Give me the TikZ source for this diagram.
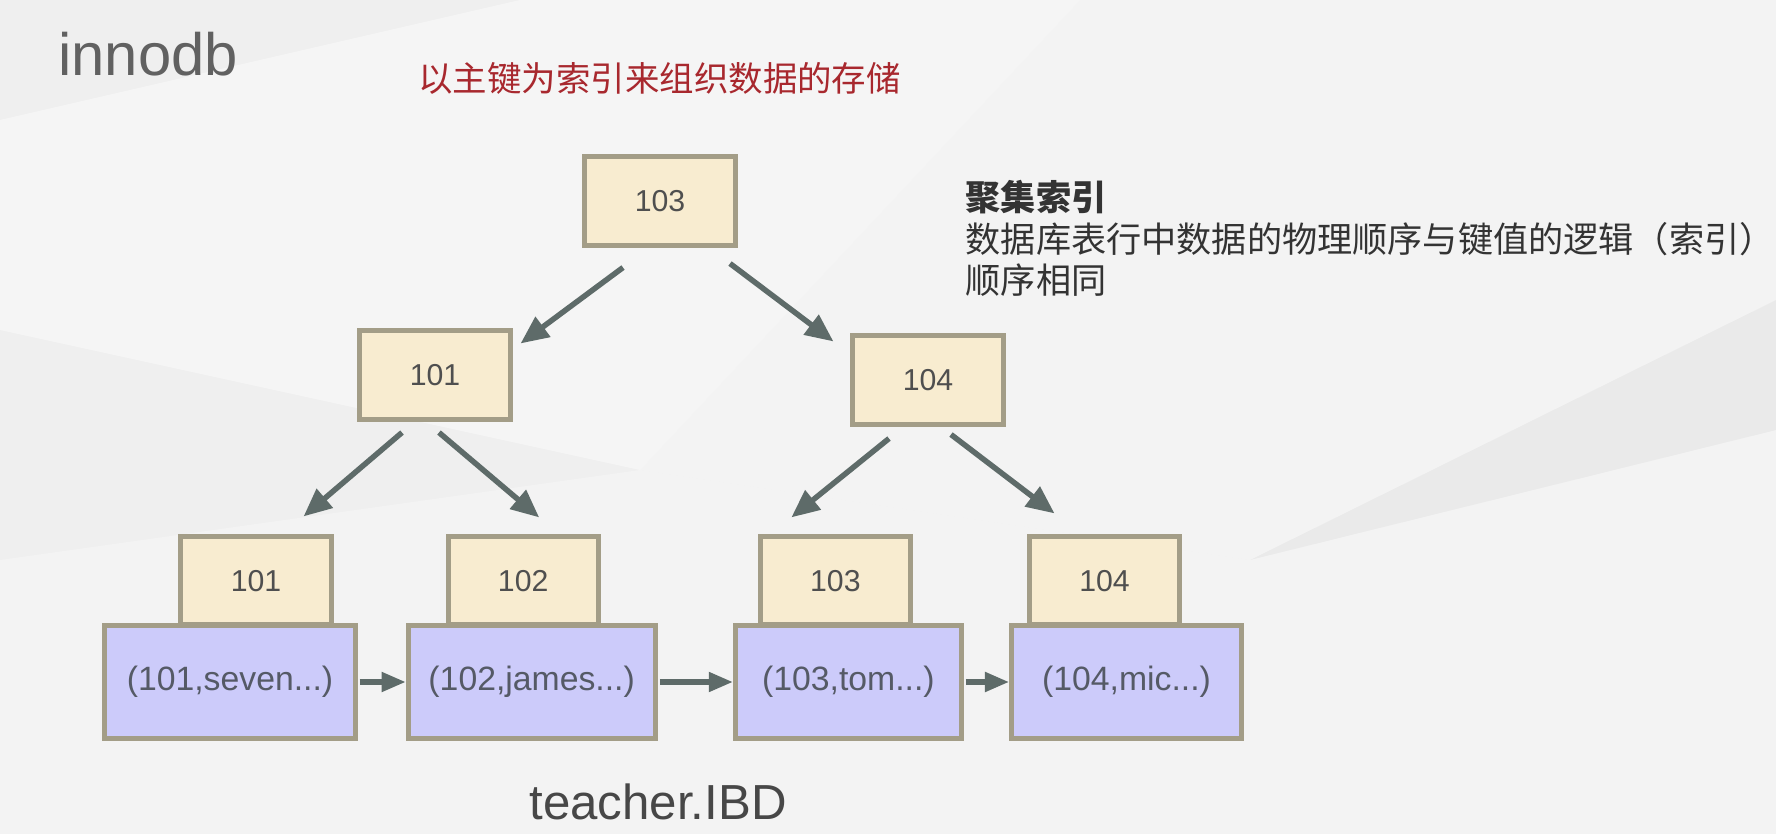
\documentclass[tikz,border=0pt]{standalone}
\usepackage{fontspec}
\setmainfont{Liberation Sans}
\newfontfamily\cjk{Noto Sans CJK SC}
\usetikzlibrary{arrows.meta,positioning,calc}

\definecolor{keyfill}{HTML}{F8ECD0}
\definecolor{rowfill}{HTML}{CCCBFA}
\definecolor{boxline}{HTML}{A39D87}
\definecolor{arrowgray}{HTML}{5E6B69}
\definecolor{keytext}{HTML}{4F4F4F}
\definecolor{rowtext}{HTML}{555A66}
\definecolor{titlered}{HTML}{A8282E}
\definecolor{slidebg}{HTML}{EFEFEF}

\begin{document}
\begin{tikzpicture}[x=0.01cm, y=-0.01cm,
  keybox/.style={rectangle, draw=boxline, fill=keyfill, line width=0.05cm, minimum width=1.5cm, minimum height=0.88cm, text=keytext, font=\fontsize{8.6}{10}\selectfont},
  rowbox/.style={rectangle, draw=boxline, fill=rowfill, line width=0.05cm, minimum height=1.12cm, text=rowtext, font=\fontsize{9.6}{11}\selectfont},
  treearrow/.style={-{Triangle[length=0.28cm, width=0.24cm]}, line width=0.055cm, color=arrowgray},
  linkarrow/.style={-{Triangle[length=0.24cm, width=0.19cm]}, line width=0.05cm, color=arrowgray}]
\useasboundingbox (0,0) rectangle (1776,834);
% slide background
\fill[slidebg] (0,0) rectangle (1776,834);
\fill[white, opacity=0.4] (0,120) -- (520,0) -- (1080,0) -- (640,470) -- (0,330) -- cycle;
\fill[white, opacity=0.3] (640,470) -- (1080,0) -- (1776,0) -- (1776,300) -- (1250,560) -- cycle;
\fill[white, opacity=0.25] (0,560) -- (640,470) -- (1250,560) -- (1776,430) -- (1776,834) -- (0,834) -- cycle;
\fill[gray, opacity=0.04] (1250,560) -- (1776,300) -- (1776,430) -- cycle;

% titles
\node[anchor=base west, text=black!62, font=\fontsize{17}{20}\selectfont] (engine) at (46,76) {innodb};
\node[anchor=west, text=titlered, font=\cjk\fontsize{9.8}{12}\selectfont] (subtitle) at (406,78) {以主键为索引来组织数据的存储};

% index tree
\node[keybox] (root) at (660,201) {103};
\node[keybox] (m101) at (435,375) {101};
\node[keybox] (m104) at (928,380) {104};

% data pages
\node[rowbox, minimum width=2.50cm] (d1) at (230,682) {(101,seven...)};
\node[rowbox, minimum width=2.47cm, right=0.48cm of d1] (d2) {(102,james...)};
\node[rowbox, minimum width=2.26cm, right=0.75cm of d2] (d3) {(103,tom...)};
\node[rowbox, minimum width=2.30cm, right=0.45cm of d3] (d4) {(104,mic...)};

\node[keybox, above=-0.04cm of d1, xshift=0.26cm] (k101) {101};
\node[keybox, above=-0.04cm of d2, xshift=-0.085cm] (k102) {102};
\node[keybox, above=-0.04cm of d3, xshift=-0.13cm] (k103) {103};
\node[keybox, above=-0.04cm of d4, xshift=-0.22cm] (k104) {104};

\draw[treearrow] ([shift={(-37,20)}]root.south) -- ([shift={(8,15)}]m101.north east);
\draw[treearrow] ([shift={(70,16)}]root.south) -- ([shift={(-17,8)}]m104.north west);
\draw[treearrow] ([shift={(-33,11)}]m101.south) -- ([shift={(-30,-18)}]k101.north east);
\draw[treearrow] ([shift={(4,11)}]m101.south) -- ([shift={(16,-17)}]k102.north);
\draw[treearrow] ([shift={(-39,12)}]m104.south) -- ([shift={(-44,-17)}]k103.north);
\draw[treearrow] ([shift={(23,8)}]m104.south) -- ([shift={(-50,-21)}]k104.north);

\draw[linkarrow, shorten <=0.02cm] (d1) -- (d2);
\draw[linkarrow, shorten <=0.02cm] (d2) -- (d3);
\draw[linkarrow, shorten <=0.02cm] (d3) -- (d4);

\node[anchor=base, text=black!72, font=\fontsize{14}{16}\selectfont] (file) at (658,819) {teacher.IBD};

% note on the right
\node[anchor=north west, align=left, inner sep=0pt, text=black!80, font=\cjk\fontsize{10}{11.7}\selectfont] (note) at (965,180)
  {{\bfseries 聚集索引}\\数据库表行中数据的物理顺序与键值的逻辑（索引）\\顺序相同};
\end{tikzpicture}
\end{document}
